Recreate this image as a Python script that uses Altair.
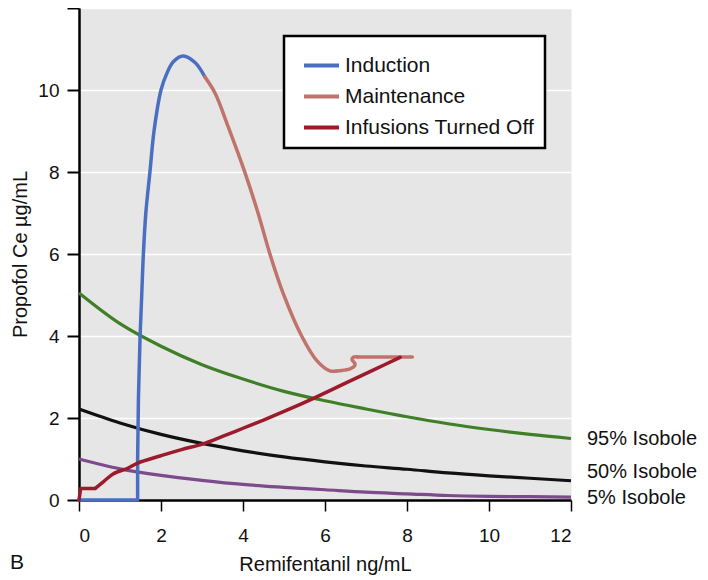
import altair as alt
import pandas as pd

# Isobole curves (remifentanil ng/mL -> propofol Ce ug/mL)
iso_x = [0, 1, 2, 3, 4, 5, 6, 7, 8, 9, 10, 11, 12]
iso95 = [5.05, 4.3, 3.75, 3.3, 2.95, 2.65, 2.42, 2.22, 2.03, 1.86, 1.72, 1.6, 1.5]
iso50 = [2.22, 1.88, 1.6, 1.38, 1.2, 1.05, 0.93, 0.83, 0.75, 0.66, 0.59, 0.53, 0.47]
iso5 = [1.0, 0.76, 0.6, 0.48, 0.38, 0.31, 0.25, 0.19, 0.15, 0.11, 0.09, 0.08, 0.07]
iso_names = ["95% Isobole", "50% Isobole", "5% Isobole"]

# Trajectory phases: straight (step) parts and smooth parts
ind_step_x = [0, 1.43, 1.43, 1.45, 1.49]
ind_step_y = [0, 0, 1.0, 2.5, 4.0]
ind_x = [1.49, 1.53, 1.57, 1.63, 1.73, 1.83, 2.0, 2.14, 2.3, 2.54, 2.83, 3.07]
ind_y = [4.0, 5.0, 6.0, 7.0, 8.0, 9.0, 10.0, 10.4, 10.69, 10.83, 10.67, 10.32]
mnt_x = [3.07, 3.32, 3.64, 4.05, 4.37, 4.66, 4.98, 5.43, 5.8, 6.12, 6.4, 6.61, 6.72, 6.73, 6.66, 6.69, 6.8]
mnt_y = [10.32, 9.92, 9.1, 7.98, 6.99, 5.99, 5.04, 4.0, 3.4, 3.15, 3.16, 3.2, 3.27, 3.33, 3.42, 3.48, 3.49]
mnt_step_x = [6.8, 8.13]
mnt_step_y = [3.49, 3.49]
off_step_x = [0, 0.04, 0.39]
off_step_y = [0, 0.28, 0.28]
off_x = [0.39, 0.6, 0.84, 1.2, 1.43, 2.0, 2.5, 3.03, 3.5, 4.0, 4.5, 5.0, 5.72, 6.5, 7.2, 7.83]
off_y = [0.28, 0.45, 0.64, 0.78, 0.9, 1.08, 1.23, 1.37, 1.55, 1.75, 1.95, 2.16, 2.48, 2.85, 3.18, 3.48]

phases = ["Induction", "Maintenance", "Infusions Turned Off"]
phase_colors = ["#4a6fc1", "#c0736a", "#9c1a2b"]
iso_colors = ["#3f7f27", "#111111", "#7d4a8c"]
iso_label_dy = [0, -9, 1]

FONT = "Liberation Sans"


def frame(parts):
    rows = []
    for name, xs, ys in parts:
        for i, (x, y) in enumerate(zip(xs, ys)):
            rows.append({"phase": name, "x": x, "y": y, "i": i})
    return pd.DataFrame(rows)


smooth = frame([(phases[0], ind_x, ind_y), (phases[1], mnt_x, mnt_y), (phases[2], off_x, off_y)])
steps = frame([(phases[0], ind_step_x, ind_step_y), (phases[1], mnt_step_x, mnt_step_y),
               (phases[2], off_step_x, off_step_y)])

xscale = alt.Scale(domain=[0, 12], nice=False, zero=False)
yscale = alt.Scale(domain=[0, 12], nice=False, zero=False)

x_axis = alt.Axis(values=[0, 2, 4, 6, 8, 10, 12], title="Remifentanil ng/mL", grid=False,
                  domainColor="black", domainWidth=2.5, tickColor="black", tickWidth=1.5,
                  tickSize=11, labelFontSize=19, labelPadding=15, labelColor="#111",
                  titleFontSize=20, titleFontWeight="normal", titlePadding=9, titleColor="#111",
                  labelFont=FONT, titleFont=FONT)
y_axis = alt.Axis(values=[0, 2, 4, 6, 8, 10, 12], title="Propofol Ce µg/mL", grid=True,
                  gridColor="white", gridWidth=1.5,
                  labelExpr="datum.value == 12 ? '' : datum.label",
                  domainColor="black", domainWidth=2.5, tickColor="black", tickWidth=2,
                  tickSize=12, labelFontSize=19, labelPadding=8, labelColor="#111",
                  titleFontSize=20, titleFontWeight="normal", titlePadding=7, titleColor="#111",
                  labelFont=FONT, titleFont=FONT)

layers = []
for name, vals, col in zip(iso_names, [iso95, iso50, iso5], iso_colors):
    df = pd.DataFrame({"x": iso_x, "y": vals})
    layers.append(
        alt.Chart(df).mark_line(color=col, strokeWidth=3.2, interpolate="monotone").encode(
            x=alt.X("x:Q", scale=xscale, axis=x_axis),
            y=alt.Y("y:Q", scale=yscale, axis=y_axis),
        )
    )

color_enc = alt.Color(
    "phase:N", scale=alt.Scale(domain=phases, range=phase_colors), sort=phases,
    legend=alt.Legend(title=None, orient="none", legendX=205, legendY=28,
                      fillColor="white", padding=10, symbolOffset=8,
                      symbolType="stroke", symbolStrokeWidth=4,
                      symbolSize=1225, labelFontSize=21, labelFont=FONT,
                      labelColor="#111", labelLimit=400, rowPadding=1,
                      labelOffset=4, labelExpr="datum.label + '  '"))

for df, interp in [(steps, "linear"), (smooth, "catmull-rom")]:
    layers.append(
        alt.Chart(df).mark_line(strokeWidth=3.5, strokeCap="round", strokeJoin="round",
                                interpolate=interp).encode(
            x=alt.X("x:Q", scale=xscale, axis=x_axis),
            y=alt.Y("y:Q", scale=yscale, axis=y_axis),
            color=color_enc,
            order="i:Q",
        )
    )

for name, vals, dy in zip(iso_names, [iso95, iso50, iso5], iso_label_dy):
    lab = pd.DataFrame({"x": [iso_x[-1]], "y": [vals[-1]], "t": [name]})
    layers.append(
        alt.Chart(lab).mark_text(align="left", baseline="middle", dx=16, dy=dy,
                                 fontSize=20, font=FONT, color="#111").encode(
            x=alt.X("x:Q", scale=xscale, axis=x_axis),
            y=alt.Y("y:Q", scale=yscale, axis=y_axis),
            text="t:N",
        )
    )

chart = alt.layer(*layers).properties(
    width=492, height=492,
    autosize=alt.AutoSizeParams(type="none"),
    padding={"left": 71, "top": 0, "right": 129, "bottom": 80},
    title=alt.Title("B", orient="bottom", anchor="start", frame="group", dx=-69, offset=-22,
                    fontSize=21, fontWeight="normal", font=FONT, color="#111"),
).configure_view(fill="#e6e6e6", stroke="transparent").configure_legend(
    strokeColor="black", strokeWidth=2.5
)

chart.save("out.html", embed_options={"renderer": "svg", "actions": False})
